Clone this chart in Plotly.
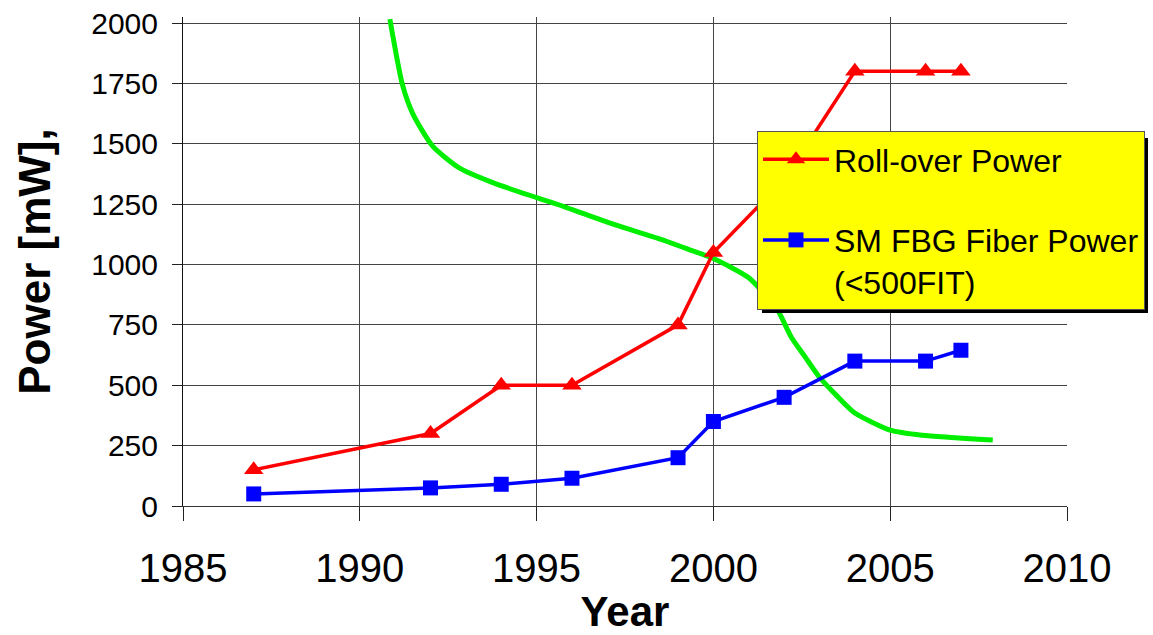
import plotly.graph_objects as go

# Roll-over power per year
rollover_years = [1987, 1992, 1994, 1996, 1999, 2000, 2002, 2004, 2006, 2007]
rollover_power = [150, 300, 500, 500, 750, 1050, 1350, 1800, 1800, 1800]

# Single-mode FBG fiber-coupled power (<500 FIT)
fbg_years = [1987, 1992, 1994, 1996, 1999, 2000, 2002, 2004, 2006, 2007]
fbg_power = [50, 75, 90, 115, 200, 350, 450, 600, 600, 645]

# Unlabelled trend curve
trend_years = [1990.85, 1991.2, 1991.5, 1992.06, 1992.8, 1993.76, 1995.0, 1995.85,
               1997.06, 1998.5, 1999.2, 2000.0, 2001.0, 2001.8, 2002.2, 2002.6,
               2003.0, 2003.5, 2004.0, 2005.0, 2005.9, 2007.9]
trend_power = [2016, 1748, 1624, 1490, 1401, 1339, 1277, 1236,
               1172, 1105, 1068, 1025, 945, 815, 700, 616,
               533, 455, 385, 314, 293, 273]

x_ticks = [1985, 1990, 1995, 2000, 2005, 2010]
y_ticks = [0, 250, 500, 750, 1000, 1250, 1500, 1750, 2000]

FONT = "Liberation Sans, Arial, sans-serif"

fig = go.Figure()

fig.add_trace(go.Scatter(
    x=trend_years, y=trend_power, mode="lines",
    line=dict(color="#00EE00", width=5, shape="spline", smoothing=0.6),
    showlegend=False, hoverinfo="skip",
))

fig.add_trace(go.Scatter(
    x=rollover_years, y=rollover_power, mode="lines+markers",
    name="Roll-over Power", legendgroup="a",
    line=dict(color="#FF0000", width=3.5),
    marker=dict(symbol="triangle-up", size=17, color="#FF0000"),
))

fig.add_trace(go.Scatter(
    x=fbg_years, y=fbg_power, mode="lines+markers",
    name="SM FBG Fiber Power<br>(&lt;500FIT)", legendgroup="b",
    line=dict(color="#0000FF", width=3.5),
    marker=dict(symbol="square", size=15, color="#0000FF"),
))

L, R, T, B = 183, 86, 17, 129
W, H = 1153, 635
pw, ph = W - L - R, H - T - B


def px_x(x):
    return (x - L) / pw


def px_y(y):
    return (H - B - y) / ph


# drop shadow behind the legend box
fig.add_shape(
    type="rect", xref="paper", yref="paper",
    x0=px_x(762), x1=px_x(1148), y0=px_y(313), y1=px_y(138),
    fillcolor="black", line=dict(width=0), layer="above",
)

fig.update_layout(
    width=W, height=H,
    margin=dict(l=L, r=R, t=T, b=B, autoexpand=False),
    paper_bgcolor="white", plot_bgcolor="white",
    font=dict(family=FONT, color="black"),
    legend=dict(
        x=px_x(757), y=px_y(131), xanchor="left", yanchor="top",
        bgcolor="#FFFF00", bordercolor="#555555", borderwidth=1,
        font=dict(family=FONT, size=32, color="black"),
        traceorder="grouped", tracegroupgap=36,
        itemwidth=66, valign="top",
    ),
    xaxis=dict(
        range=[1985, 2010], tickvals=x_ticks,
        showgrid=True, gridcolor="#444444", gridwidth=1,
        showline=True, linecolor="#333333", linewidth=1,
        ticks="outside", ticklen=14, tickcolor="#222222", tickwidth=1,
        tickfont=dict(family=FONT, size=40),
        ticklabelstandoff=13,
        zeroline=False,
        title=dict(text="<b>Year</b>", font=dict(family=FONT, size=42), standoff=9),
    ),
    yaxis=dict(
        range=[0, 2025], tickvals=y_ticks,
        showgrid=True, gridcolor="#444444", gridwidth=1,
        showline=True, linecolor="#111111", linewidth=1,
        ticks="outside", ticklen=10, tickcolor="#222222", tickwidth=1,
        tickfont=dict(family=FONT, size=30),
        ticklabelstandoff=8,
        zeroline=False,
        title=dict(text="<b>Power [mW],</b>", font=dict(family=FONT, size=44), standoff=26),
    ),
)

fig.write_html("out.html")
